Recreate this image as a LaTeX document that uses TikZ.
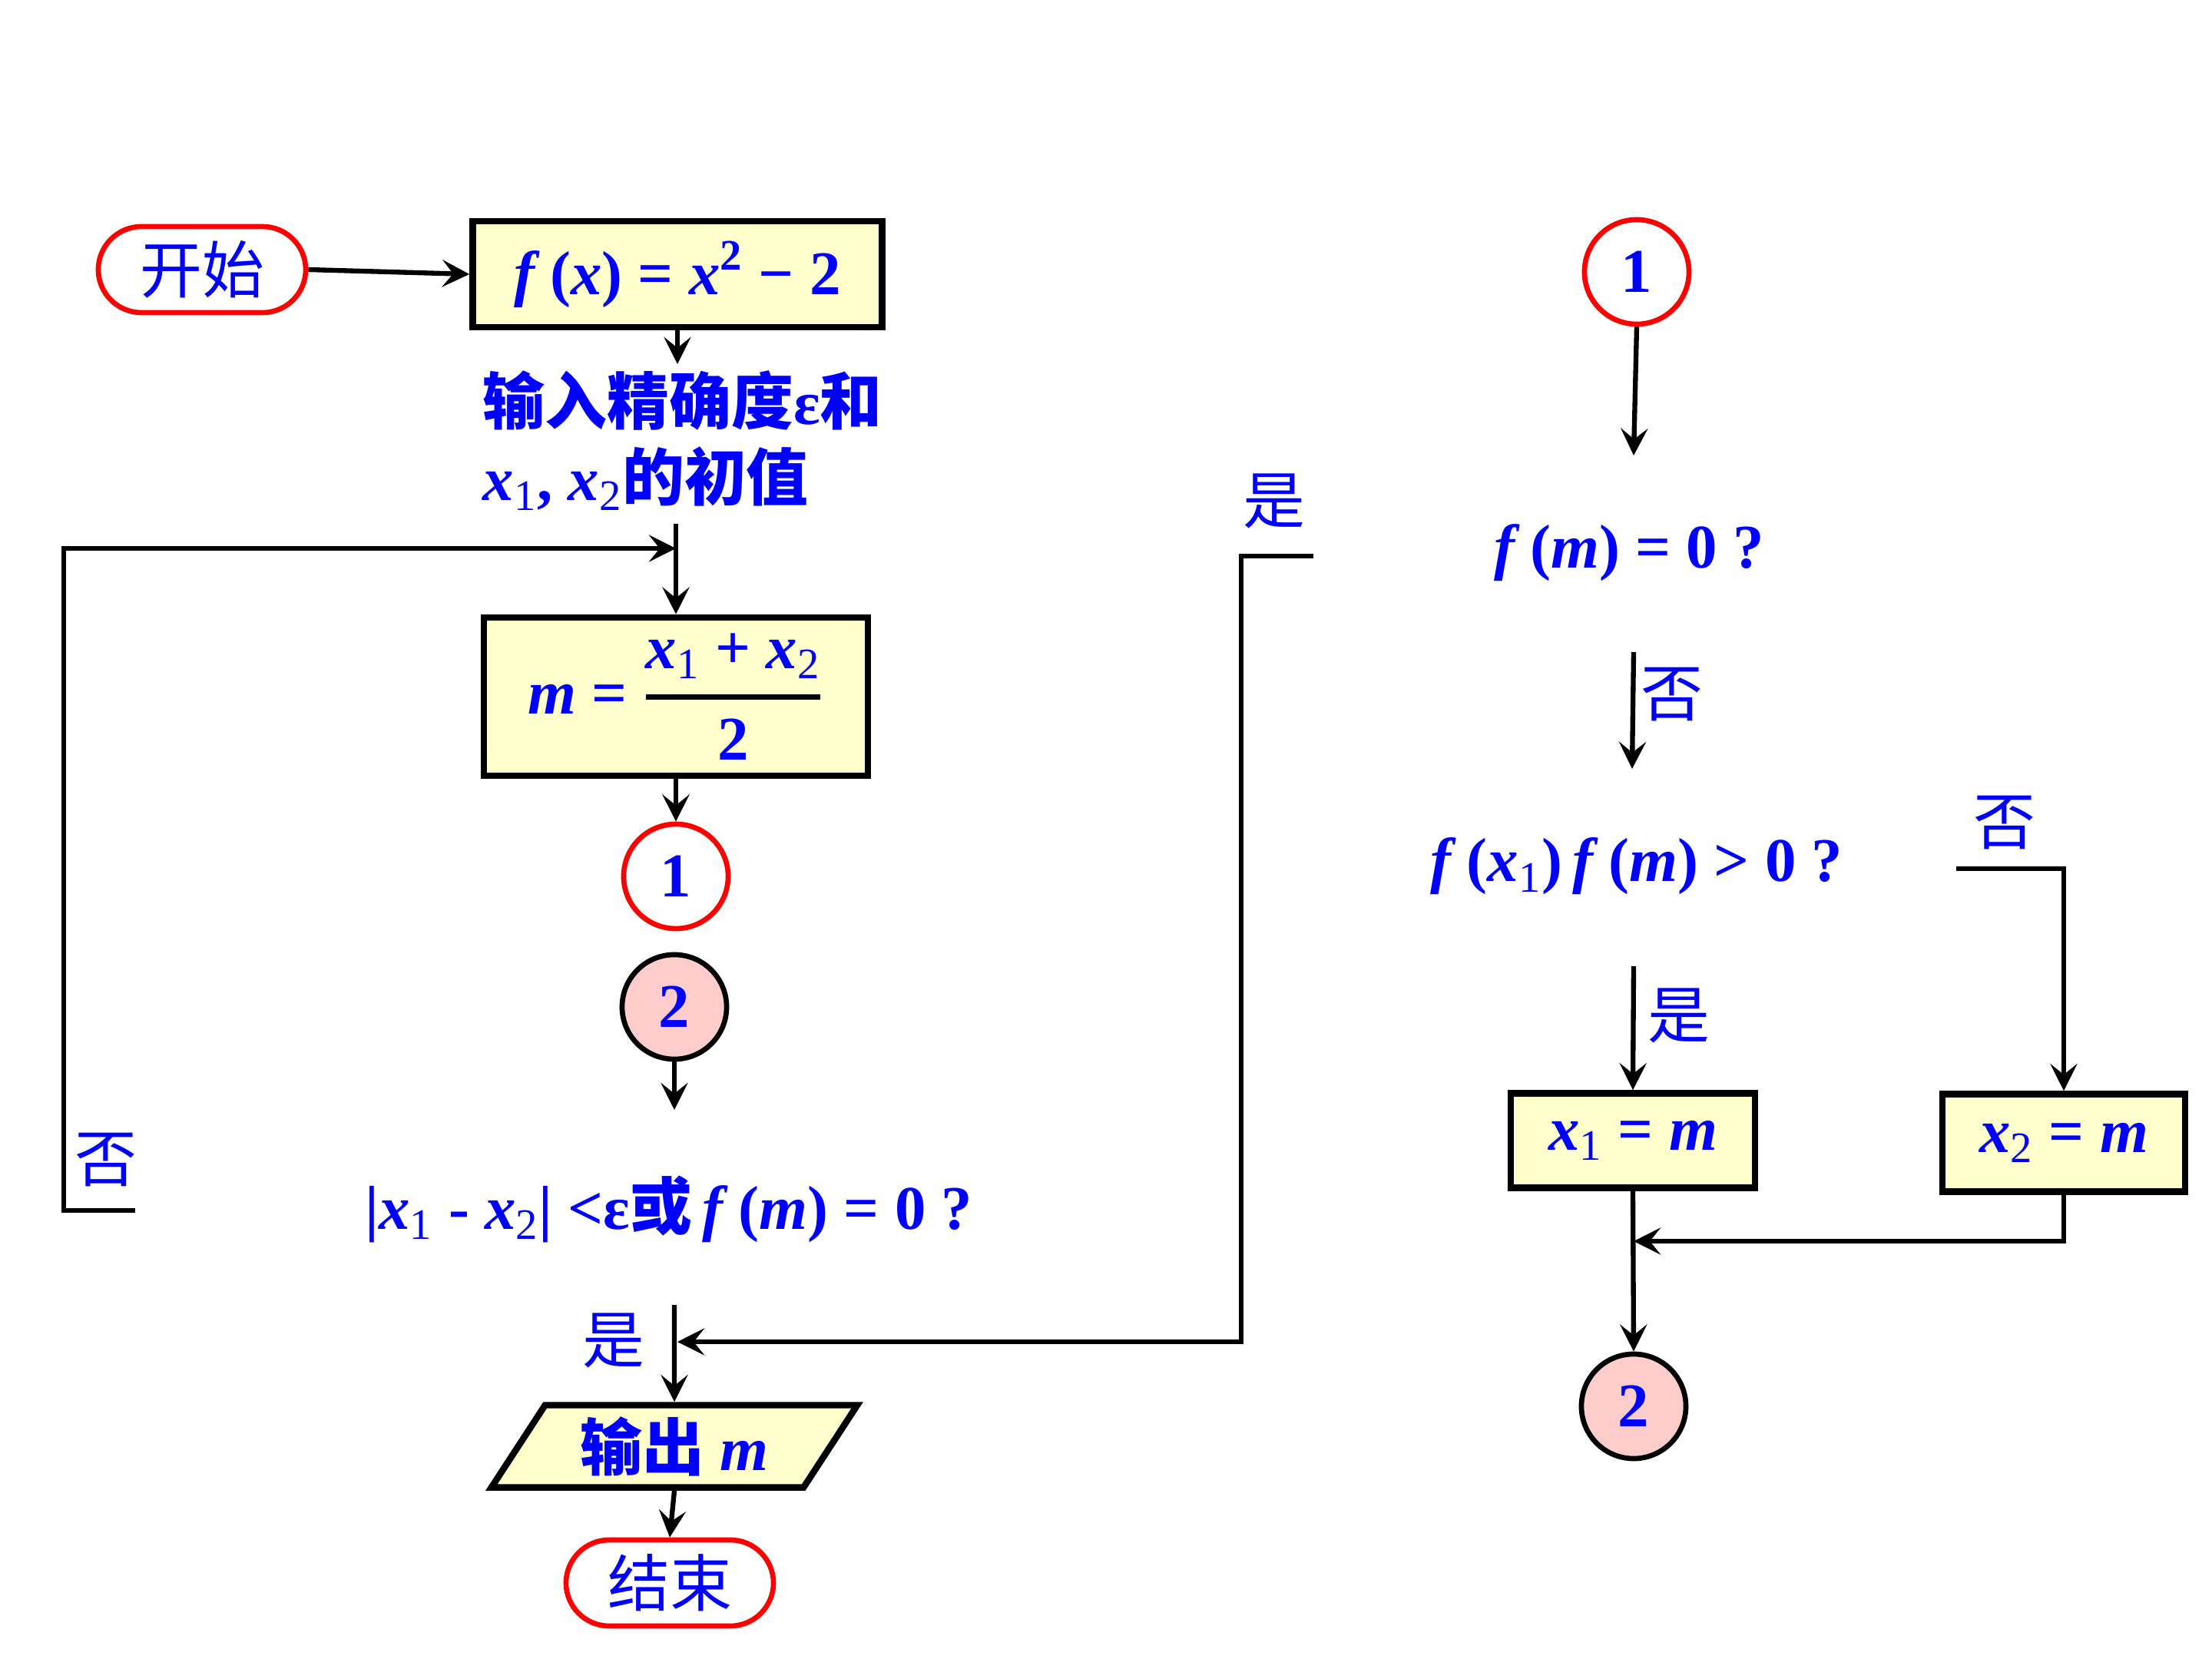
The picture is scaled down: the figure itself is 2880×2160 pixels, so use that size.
\documentclass[tikz,border=0pt]{standalone}
\usepackage{amsmath}
\usepackage{fontspec}
\setmainfont{Liberation Serif}
\newfontfamily\cjk{Noto Sans CJK SC}
\usetikzlibrary{arrows.meta,shapes.geometric}

\definecolor{txtblue}{RGB}{0,0,255}
\definecolor{boxfill}{RGB}{255,255,204}
\definecolor{pinkfill}{RGB}{255,204,204}
\definecolor{termred}{RGB}{255,0,0}

\newcommand{\vx}[1]{\textit{x}\textsubscript{\mdseries#1}}

\tikzset{
  every node/.style={text=txtblue,font=\bfseries\fontsize{23}{28}\selectfont},
  term/.style={draw=termred,line width=1.9pt,rounded corners=16pt,
    minimum width=2.7cm,minimum height=1.12cm,font=\cjk\fontsize{23}{28}\selectfont},
  procbox/.style={draw=black,line width=2.4pt,fill=boxfill},
  conn/.style={circle,draw=termred,line width=1.9pt,minimum size=1.36cm,inner sep=0pt},
  conntwo/.style={conn,draw=black,fill=pinkfill},
  lbl/.style={font=\cjk\fontsize{23}{28}\selectfont},
  flow/.style={line width=1.8pt,-{Stealth[length=10pt,width=10pt,inset=4pt]}},
}

\begin{document}
\begin{tikzpicture}[x=0.01cm,y=-0.01cm]
\useasboundingbox (0,0) rectangle (2880,2160);

% left column
\node[term] (start) at (263,351) {开始};
\node[procbox,minimum width=5.33cm,minimum height=1.38cm] (fx) at (882,357)
  {\textit{f}\,(\textit{x}) = \textit{x}\textsuperscript{2} − 2};
\coordinate (fxend) at (882,474);
\node[anchor=north west,align=left,inner sep=0pt] (input) at (628,482)
  {{\cjk 输入精确度}ε{\cjk 和}\\ \vx{1}, \vx{2}{\cjk 的初值}};
\coordinate (top) at (880,682);
\coordinate (loopin) at (880,714);
\node[procbox,minimum width=5cm,minimum height=2.06cm] (mid) at (880,907)
  {\textit{m} = {\color{black}$\genfrac{}{}{1.8pt}{0}{\hbox{\color{txtblue}\vx{1} + \vx{2}}}{\hbox{\color{txtblue}2}}$}};
\node[conn] (ca) at (880,1141) {1};
\node[conntwo] (cb) at (878,1311) {2};
\coordinate (cbend) at (878,1445);
\node (test) at (871,1574)
  {|\vx{1} - \vx{2}| <ε{\cjk 或}\,\textit{f}\,(\textit{m}) = 0 ?};
\coordinate (nl) at (176,1576);
\coordinate (ysplit) at (878,1699);
\coordinate (yjoin) at (882,1747);
\coordinate (yr) at (1710,724);
\node[procbox,trapezium,trapezium left angle=48,trapezium right angle=132,
  trapezium stretches body,minimum width=4.76cm,minimum height=1.07cm,
  inner sep=0pt] (out) at (878,1883) {{\cjk 输出} \textit{m}};
\node[term] (stop) at (872,2061) {结束};

\draw[flow] (start.east) -- (fx.west);
\draw[flow] (fx.south) -- (fxend);
\draw[flow] (top) -- (mid.north);
\draw[flow] (nl) -- ++(-93,0) |- (loopin);
\draw[flow] (mid.south) -- (ca.north);
\draw[flow] (cb.south) -- (cbend);
\draw[flow] (ysplit) -- (out.north);
\draw[flow] (yr) -- ++(-94,0) |- (yjoin);
\draw[flow] (out.south) -- (stop.north);
\node[lbl] (nlbl) at (138,1510) {否};
\node[lbl] (ylbl) at (799,1745) {是};
\node[lbl] (yrlbl) at (1659,652) {是};

% right column
\node[conn] (cc) at (2131,354) {1};
\coordinate (ccend) at (2127,593);
\node (fm0) at (2121,720) {\textit{f}\,(\textit{m}) = 0 ?};
\coordinate (fm0s) at (2127,849);
\coordinate (fm0e) at (2125,1001);
\node (fxm) at (2131,1128)
  {\textit{f}\,(\vx{1})\,\textit{f}\,(\textit{m}) > 0 ?};
\coordinate (fxms) at (2127,1258);
\coordinate (nrs) at (2547,1131);
\node[procbox,minimum width=3.18cm,minimum height=1.23cm] (xa) at (2126,1485)
  {\vx{1} = \textit{m}};
\node[procbox,minimum width=3.16cm,minimum height=1.27cm] (xb) at (2687,1488)
  {\vx{2} = \textit{m}};
\coordinate (merge) at (2127,1616);
\node[conntwo] (cd) at (2127,1831) {2};

\draw[flow] (cc.south) -- (ccend);
\draw[flow] (fm0s) -- (fm0e);
\draw[flow] (fxms) -- (xa.north);
\draw[flow] (nrs) -| (xb.north);
\draw[flow] (xb.south) |- (merge);
\draw[flow] (xa.south) -- (cd.north);
\node[lbl] (nflbl) at (2177,904) {否};
\node[lbl] (yflbl) at (2186,1322) {是};
\node[lbl] (nxlbl) at (2610,1071) {否};
\end{tikzpicture}
\end{document}
